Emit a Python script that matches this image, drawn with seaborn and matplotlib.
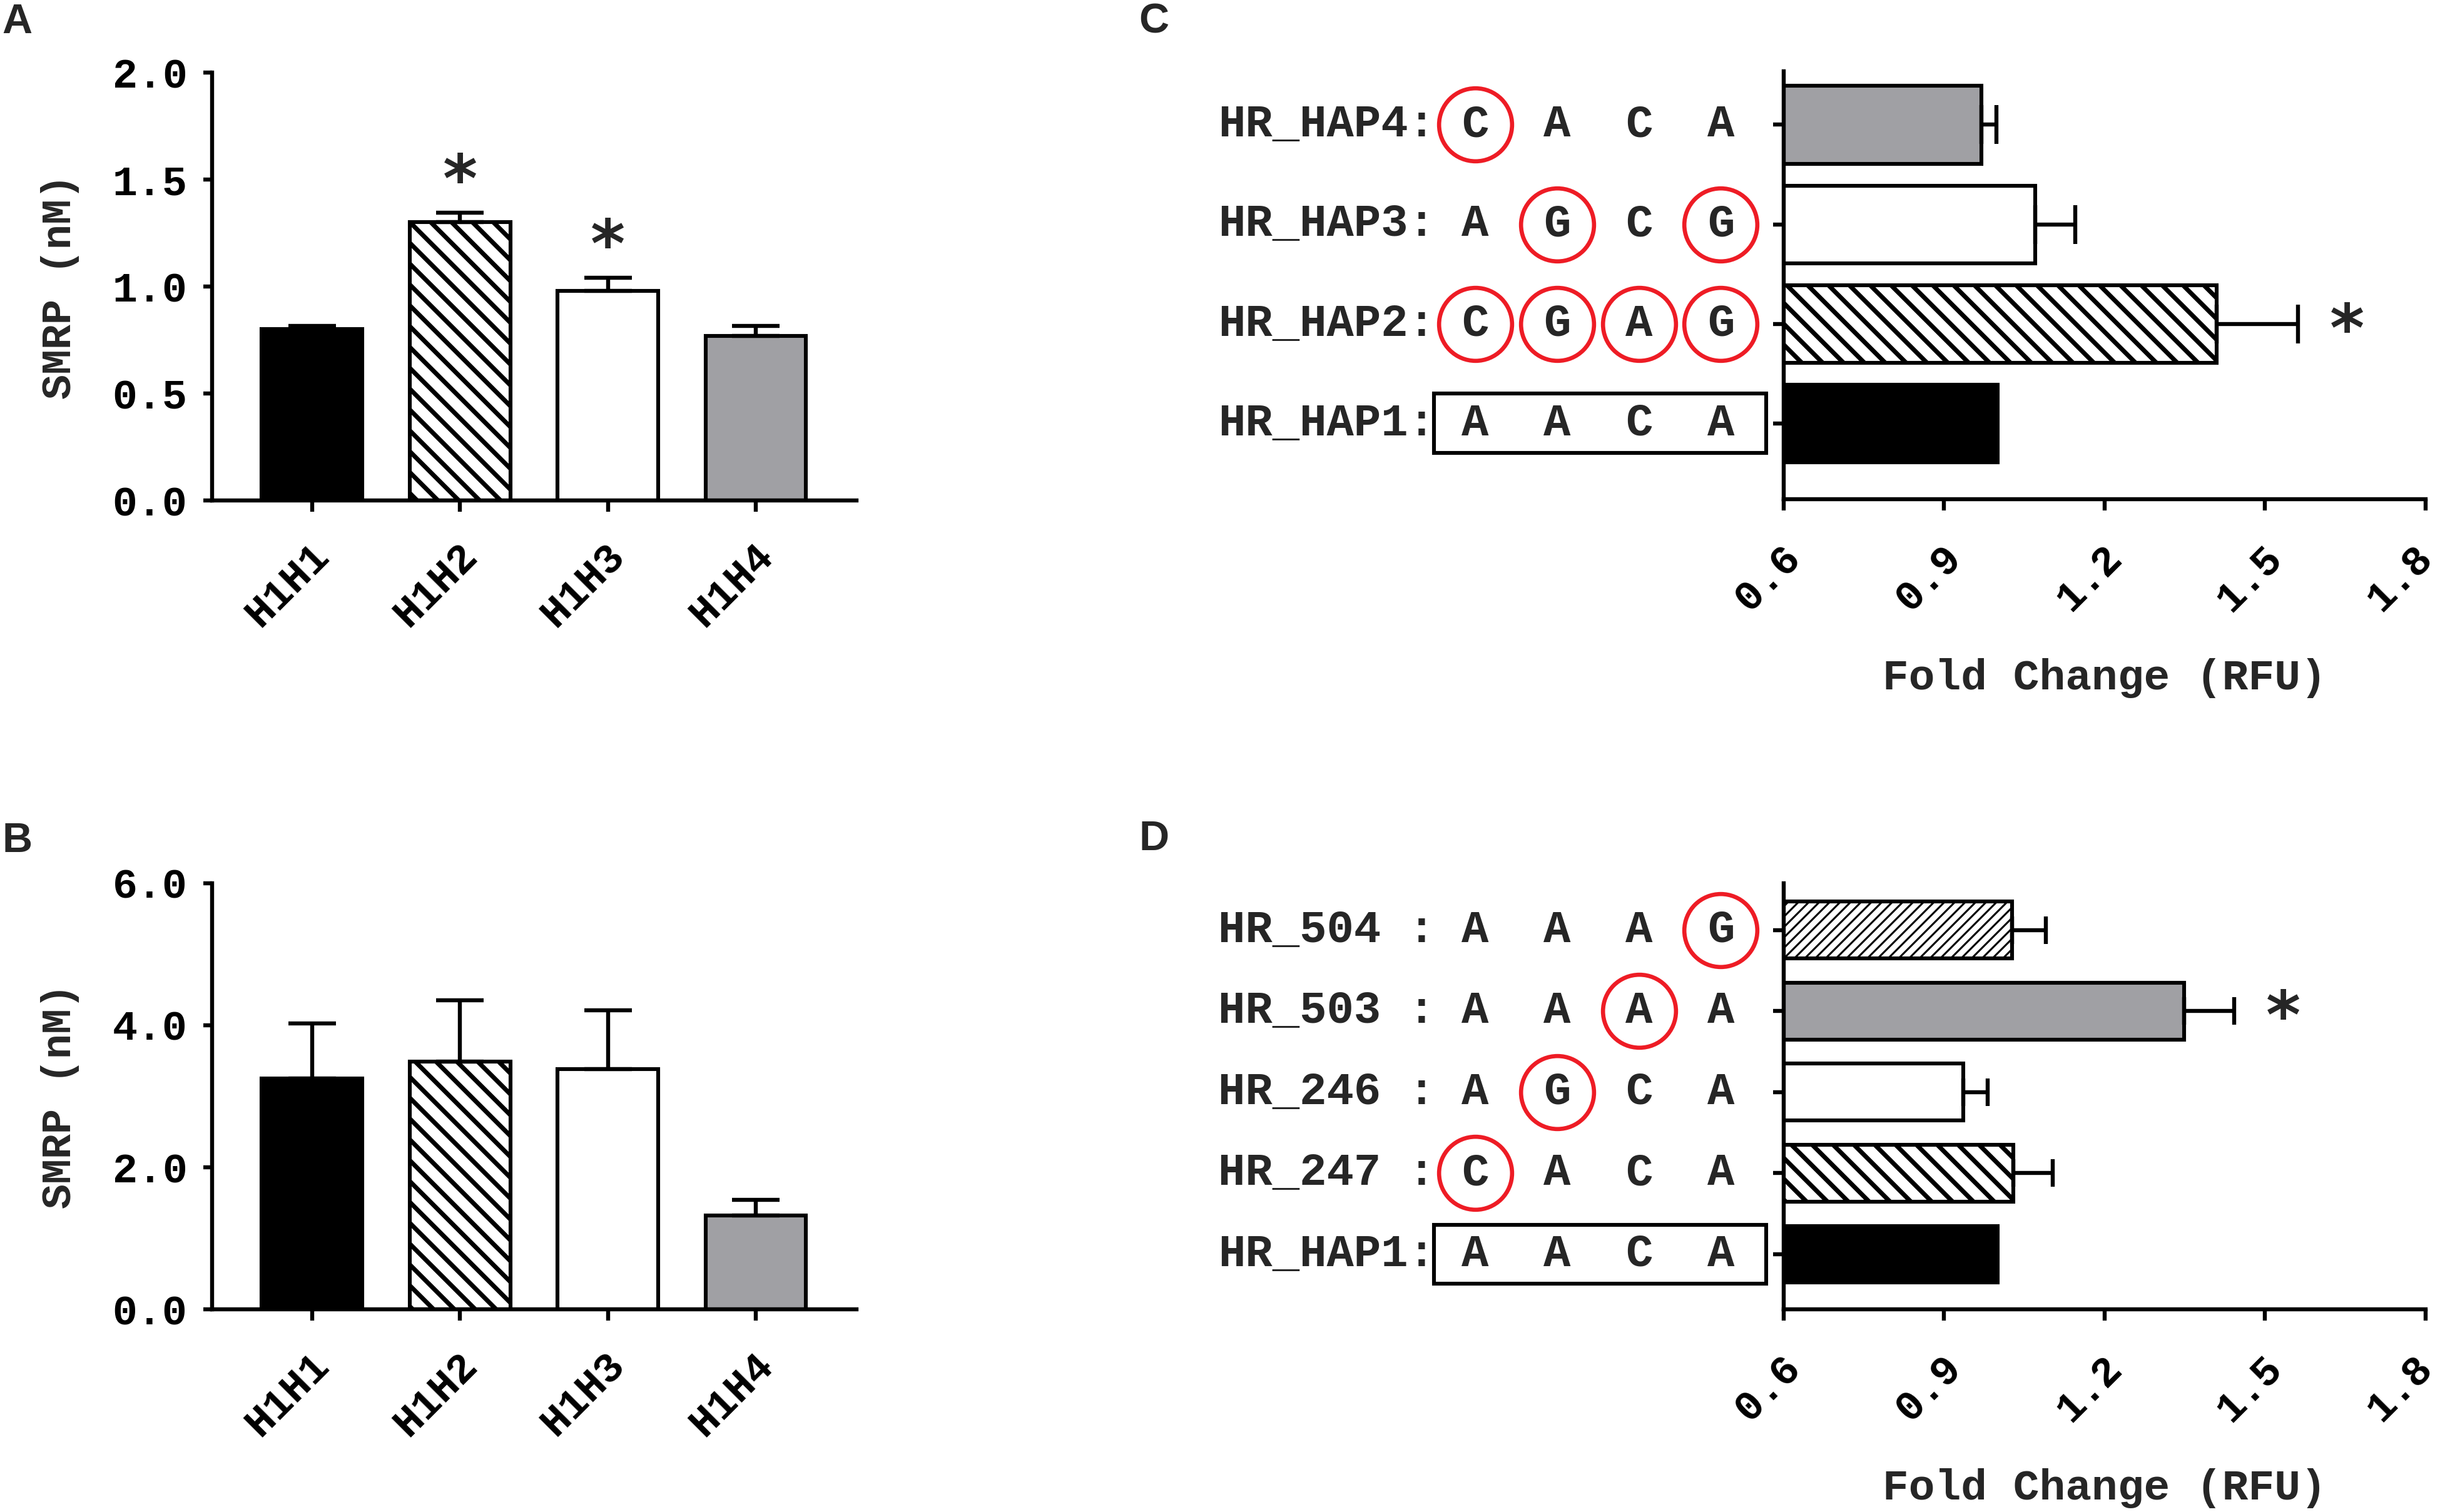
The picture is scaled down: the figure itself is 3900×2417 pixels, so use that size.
import numpy as np
import pandas as pd
import matplotlib
matplotlib.use('Agg')
import matplotlib.pyplot as plt
import matplotlib.transforms as mtransforms
from matplotlib.patches import Rectangle
import seaborn as sns

# ---------------- data ----------------
a_groups = ['H1H1', 'H1H2', 'H1H3', 'H1H4']
a_values = [0.80, 1.30, 0.98, 0.77]
a_errors = [0.015, 0.045, 0.06, 0.045]
a_sig = [False, True, True, False]
a_yticks = [0.0, 0.5, 1.0, 1.5, 2.0]

b_groups = ['H1H1', 'H1H2', 'H1H3', 'H1H4']
b_values = [3.25, 3.49, 3.38, 1.32]
b_errors = [0.77, 0.86, 0.83, 0.22]
b_sig = [False, False, False, False]
b_yticks = [0.0, 2.0, 4.0, 6.0]

c_labels = ['HR_HAP4:', 'HR_HAP3:', 'HR_HAP2:', 'HR_HAP1:']
c_seqs = [['C', 'A', 'C', 'A'], ['A', 'G', 'C', 'G'], ['C', 'G', 'A', 'G'], ['A', 'A', 'C', 'A']]
c_mut = [[1, 0, 0, 0], [0, 1, 0, 1], [1, 1, 1, 1], [0, 0, 0, 0]]
c_values = [0.97, 1.07, 1.41, 1.00]
c_errors = [0.028, 0.075, 0.152, 0.0]
c_sig = [False, False, True, False]

d_labels = ['HR_504 :', 'HR_503 :', 'HR_246 :', 'HR_247 :', 'HR_HAP1:']
d_seqs = [['A', 'A', 'A', 'G'], ['A', 'A', 'A', 'A'], ['A', 'G', 'C', 'A'], ['C', 'A', 'C', 'A'], ['A', 'A', 'C', 'A']]
d_mut = [[0, 0, 0, 1], [0, 0, 1, 0], [0, 1, 0, 0], [1, 0, 0, 0], [0, 0, 0, 0]]
d_values = [1.027, 1.349, 0.936, 1.030, 1.00]
d_errors = [0.063, 0.094, 0.046, 0.073, 0.0]
d_sig = [False, True, False, False, False]

fc_ticks = [0.6, 0.9, 1.2, 1.5, 1.8]

# ---------------- style ----------------
GRAY = '#A0A0A4'
RED = '#EE1C25'
a_colors = ['black', 'white', 'white', GRAY]
a_hatch = ['', '\\\\', '', '']
c_colors = [GRAY, 'white', 'white', 'black']
c_hatch = ['', '', '\\\\', '']
d_colors = ['white', GRAY, 'white', 'white', 'black']
d_hatch = ['////', '', '', '\\\\', '']
THICK_H = 2.6
THIN_H = 1.1
d_hlw = [THIN_H, THICK_H, THICK_H, THICK_H, THICK_H]

sns.set_style('ticks')
plt.rcParams['font.family'] = ['Liberation Mono', 'DejaVu Sans']
plt.rcParams['font.weight'] = 'bold'
plt.rcParams['axes.labelweight'] = 'bold'
plt.rcParams['hatch.linewidth'] = THICK_H

FS = 24
LW = 2.3
DPI = 200

fig = plt.figure(figsize=(19.5, 12.085), dpi=DPI)
fig.patch.set_facecolor('white')


def style_axes(ax):
    for s in ['top', 'right']:
        ax.spines[s].set_visible(False)
    for s in ['left', 'bottom']:
        ax.spines[s].set_linewidth(LW)
        ax.spines[s].set_color('black')
    ax.set_facecolor('white')


def set_hatches(ax, hatches, hlws=None):
    for k, (p, h) in enumerate(zip(ax.patches, hatches)):
        p.set_hatch(h)
        p.set_edgecolor('black')
        p.set_linewidth(2.2)
        if hlws is not None and hasattr(p, 'set_hatch_linewidth'):
            p.set_hatch_linewidth(hlws[k])


def shift_xticklabels(ax, last_px=18):
    labs = ax.get_xticklabels()
    for k, lab in enumerate(labs):
        px = last_px if k == len(labs) - 1 else 18
        lab.set_transform(lab.get_transform() +
                          mtransforms.ScaledTranslation(px / DPI, 0, fig.dpi_scale_trans))


def vertical_panel(rect, groups, values, errors, sig, yticks, capsize):
    ax = fig.add_axes(rect)
    pal = dict(zip(groups, a_colors))
    sns.barplot(x=groups, y=values, hue=groups, palette=pal, width=0.68,
                errorbar=None, legend=False, ax=ax, zorder=2)
    set_hatches(ax, a_hatch)
    pos = np.arange(len(groups))
    ax.errorbar(pos, values, yerr=[np.zeros(len(errors)), errors], fmt='none',
                ecolor='black', elinewidth=LW, capsize=capsize, capthick=LW, zorder=3)
    for p, v, e, s in zip(pos, values, errors, sig):
        if s:
            ax.annotate('*', xy=(p, v + e), xytext=(0, 17), textcoords='offset points',
                        ha='center', va='center', fontsize=38, fontweight='bold',
                        family='DejaVu Sans')
    style_axes(ax)
    ax.set_xlim(-0.677, 3.68)
    ax.set_ylim(yticks[0], yticks[-1])
    ax.set_yticks(yticks)
    ax.set_yticklabels([f'{t:.1f}' for t in yticks], fontsize=FS, fontweight='bold')
    ax.set_xticks(pos)
    ax.set_xticklabels(groups, fontsize=FS, fontweight='bold', rotation=45,
                       ha='right', va='center', rotation_mode='anchor')
    ax.tick_params(axis='y', length=5, width=LW, pad=9, direction='out', colors='black')
    ax.tick_params(axis='x', length=6.5, width=LW, pad=22, direction='out', colors='black')
    shift_xticklabels(ax)
    ax.set_ylabel('SMRP (nM)', fontsize=FS, fontweight='bold')
    ax.yaxis.set_label_coords(-0.205, 0.5)
    ax.set_xlabel('')
    return ax


def horizontal_panel(rect, labels, seqs, muts, values, errors, sig, colors, hatches,
                     hlws, width, ylim, capsize, box_h):
    ax = fig.add_axes(rect)
    pal = dict(zip(labels, colors))
    sns.barplot(x=values, y=labels, hue=labels, palette=pal, width=width, orient='h',
                errorbar=None, legend=False, ax=ax, zorder=2)
    set_hatches(ax, hatches, hlws)
    pos = np.arange(len(labels))
    errs = np.array(errors, dtype=float)
    m = errs > 0
    ax.errorbar(np.array(values)[m], pos[m], xerr=[np.zeros(m.sum()), errs[m]], fmt='none',
                ecolor='black', elinewidth=LW, capsize=capsize, capthick=LW, zorder=3)
    for p, v, e, s in zip(pos, values, errors, sig):
        if s:
            ax.annotate('*', xy=(v + e, p), xytext=(28, -5), textcoords='offset points',
                        ha='center', va='center', fontsize=38, fontweight='bold',
                        family='DejaVu Sans')
    style_axes(ax)
    ax.set_xlim(fc_ticks[0], fc_ticks[-1])
    ax.set_ylim(*ylim)
    ax.set_xticks(fc_ticks)
    ax.set_xticklabels([f'{t:.1f}' for t in fc_ticks], fontsize=FS, fontweight='bold',
                       rotation=45, ha='right', va='center', rotation_mode='anchor')
    ax.set_yticks(pos)
    ax.set_yticklabels([])
    ax.tick_params(axis='y', length=6, width=LW, direction='out', colors='black')
    ax.tick_params(axis='x', length=6.5, width=LW, pad=24, direction='out', colors='black')
    shift_xticklabels(ax, last_px=2)
    ax.set_ylabel('')
    ax.set_xlabel('Fold Change (RFU)', fontsize=25, fontweight='bold')
    ax.xaxis.set_label_coords(0.5, -0.372)

    trans = mtransforms.blended_transform_factory(ax.transAxes, ax.transData)
    label_x = -0.881
    nt_x0 = -0.481
    nt_step = 0.1277
    for i, (lab, seq, mut) in enumerate(zip(labels, seqs, muts)):
        ax.text(label_x, i, lab, transform=trans, ha='left', va='center',
                fontsize=26, fontweight='bold', clip_on=False)
        for j, (nt, mm) in enumerate(zip(seq, mut)):
            x = nt_x0 + j * nt_step
            ax.text(x, i, nt, transform=trans, ha='center', va='center',
                    fontsize=26, fontweight='bold', clip_on=False)
            if mm:
                ax.plot([x], [i], marker='o', ms=42, mfc='none', mec=RED, mew=2.4,
                        transform=trans, clip_on=False, zorder=5)
    last = len(labels) - 1
    ax.add_patch(Rectangle((-0.545, last - box_h / 2), 0.518, box_h, transform=trans,
                           fill=False, lw=2.2, ec='black', clip_on=False))
    return ax


axA = vertical_panel([0.0868, 0.669, 0.2642, 0.283], a_groups, a_values, a_errors, a_sig,
                     a_yticks, 13.7)
axB = vertical_panel([0.0868, 0.134, 0.2642, 0.282], b_groups, b_values, b_errors, b_sig,
                     b_yticks, 13.7)
axC = horizontal_panel([0.731, 0.670, 0.263, 0.283], c_labels, c_seqs, c_mut, c_values,
                       c_errors, c_sig, c_colors, c_hatch, None, 0.78, (3.76, -0.54), 11, 0.60)
axD = horizontal_panel([0.731, 0.134, 0.263, 0.282], d_labels, d_seqs, d_mut, d_values,
                       d_errors, d_sig, d_colors, d_hatch, d_hlw, 0.70, (4.68, -0.58), 7.9, 0.73)

for (x, y, t) in [(0.0008, 0.998, 'A'), (0.0008, 0.4563, 'B'), (0.4667, 0.998, 'C'), (0.4667, 0.4576, 'D')]:
    fig.text(x, y, t, ha='left', va='top', fontsize=24, fontweight='bold',
             family=['Liberation Sans', 'DejaVu Sans'])

fig.savefig('out.png', dpi=DPI, facecolor='white')
